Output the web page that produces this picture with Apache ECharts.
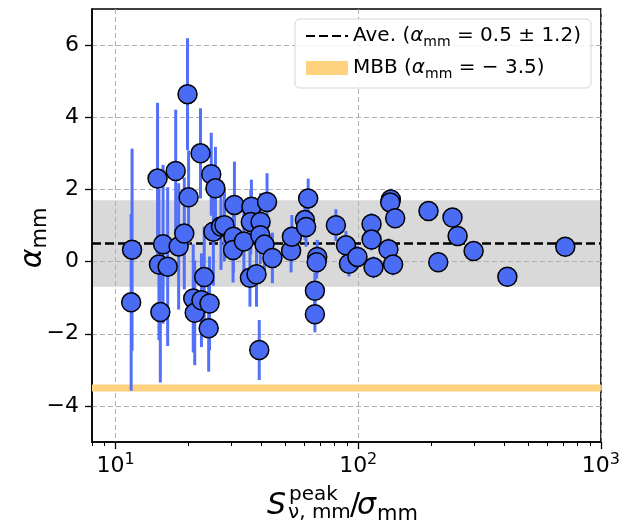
<!DOCTYPE html>
<html><head><meta charset="utf-8">
<script src="https://cdn.jsdelivr.net/npm/echarts@6/dist/echarts.min.js"></script>
<style>html,body{margin:0;padding:0;background:#fff}#c{width:623px;height:527px}</style>
</head><body><div id="c"></div>
<script>
// ---- data ----
const snrValues = [11.7, 11.6, 14.9, 15.1, 15.3, 15.7, 16.4, 17.7, 18.2, 19.2, 19.8, 20.0, 20.9, 21.2, 22.4, 22.6, 23.2, 24.2, 24.4, 24.8, 25.3, 25.8, 27.2, 28.1, 30.6, 30.5, 30.9, 33.8, 35.8, 36.3, 36.1, 38.1, 39.1, 39.6, 39.5, 41.1, 42.1, 44.3, 52.9, 53.3, 60.3, 61.0, 62.2, 66.3, 66.3, 67.8, 67.4, 80.9, 89.0, 91.6, 99.3, 113.5, 113.5, 115.6, 133.2, 136.3, 135.5, 139.2, 142.0, 194.8, 213.7, 244.6, 256.8, 298.8, 411.6, 713];
const alphaValues = [0.33, -1.13, 2.30, -0.08, -1.40, 0.48, -0.14, 2.51, 0.42, 0.78, 4.64, 1.78, -1.02, -1.42, 3.00, -1.07, -0.43, -1.85, -1.16, 2.42, 0.83, 2.03, 0.97, 1.01, 0.69, 0.32, 1.57, 0.56, -0.45, 1.52, 1.10, -0.35, -2.45, 1.10, 0.73, 0.47, 1.65, 0.10, 0.30, 0.69, 1.15, 0.96, 1.75, -0.81, -1.46, 0.13, -0.02, 1.01, 0.45, -0.06, 0.13, 1.04, 0.61, -0.16, 0.34, 1.72, 1.64, -0.08, 1.20, 1.40, -0.02, 1.22, 0.71, 0.29, -0.42, 0.41];
const alphaErrors = [2.8, 2.45, 2.1, 2.1, 1.95, 2.2, 2.2, 1.7, 1.75, 1.55, 1.55, 1.3, 1.5, 1.45, 1.25, 1.3, 1.4, 1.2, 1.3, 1.15, 1.5, 1.15, 1.2, 1.0, 1.0, 0.9, 1.2, 0.9, 0.8, 0.75, 0.9, 0.9, 0.83, 0.8, 0.8, 0.8, 0.8, 0.7, 0.6, 0.6, 0.55, 0.55, 0.55, 0.5, 0.5, 0.47, 0.45, 0.44, 0.4, 0.35, 0.3, 0.3, 0.3, 0.3, 0.3, 0.3, 0.3, 0.3, 0.25, 0.2, 0.2, 0.2, 0.2, 0.2, 0.15, 0.1];
const aveAlpha = 0.5;
const aveSpread = 1.2;
const mbbAlpha = -3.5;
const xRange = [8, 1000];
const yRange = [-5, 7];
const xMajorTicks = [10, 100, 1000];
const xMinorTicks = [8, 9, 20, 30, 40, 50, 60, 70, 80, 90, 200, 300, 400, 500, 600, 700, 800, 900];
const yTicks = [-4, -2, 0, 2, 4, 6];

const FONT = 'DejaVu Sans';
const chart = echarts.init(document.getElementById('c'), null, {renderer: 'canvas'});

const points = snrValues.map((x, i) => [x, alphaValues[i]]);
const bars = snrValues.map((x, i) => [x, alphaValues[i] - alphaErrors[i], alphaValues[i] + alphaErrors[i]]);

const option = {
  animation: false,
  backgroundColor: '#fff',
  grid: {left: 92, right: 22, top: 9, bottom: 85, show: true, borderColor: '#000', borderWidth: 1.5, backgroundColor: 'transparent', z: 1},
  legend: {
    orient: 'vertical', right: 32, top: 19,
    padding: [7, 10, 7, 10], itemGap: 9, itemWidth: 42, itemHeight: 14,
    backgroundColor: 'rgba(255,255,255,0.85)', borderColor: '#d4d4d4', borderWidth: 1, borderRadius: 5,
    data: [{name: 'Ave.', itemStyle: {opacity: 0}}, {name: 'MBB', icon: 'rect'}],
    textStyle: {
      fontFamily: FONT, fontSize: 20, color: '#000',
      rich: {
        n: {fontFamily: FONT, fontSize: 20, lineHeight: 26, color: '#000'},
        it: {fontFamily: FONT, fontSize: 20, fontStyle: 'italic', lineHeight: 26, color: '#000'},
        s: {fontFamily: FONT, fontSize: 14, lineHeight: 14, verticalAlign: 'bottom', color: '#000'}
      }
    },
    formatter: name => name === 'Ave.'
      ? '{n|Ave. (}{it|α}{s|mm}{n| = ' + aveAlpha + ' ± ' + aveSpread + ')}'
      : '{n|MBB (}{it|α}{s|mm}{n| = − ' + Math.abs(mbbAlpha) + ')}'
  },
  xAxis: [{
    type: 'log', logBase: 10, min: xRange[0], max: xRange[1], z: 1,
    axisLine: {show: true, onZero: false, lineStyle: {color: '#000', width: 1.5}},
    axisTick: {show: true, customValues: xMajorTicks, length: 7, lineStyle: {color: '#000', width: 1.3}},
    axisLabel: {
      customValues: xMajorTicks, margin: 10, color: '#000',
      formatter: v => '{b|10}{p|' + Math.round(Math.log10(v)) + '}',
      rich: {
        b: {fontFamily: FONT, fontSize: 22, lineHeight: 28, color: '#000'},
        p: {fontFamily: FONT, fontSize: 16, lineHeight: 16, verticalAlign: 'top', color: '#000'}
      }
    },
    splitLine: {show: true, lineStyle: {color: '#b0b0b0', width: 1, type: [5, 3]}}
  }, {
    type: 'log', logBase: 10, min: xRange[0], max: xRange[1], position: 'bottom', z: 1,
    axisLine: {show: false, onZero: false},
    axisTick: {show: true, customValues: xMinorTicks, length: 4, lineStyle: {color: '#000', width: 1}},
    axisLabel: {show: false},
    splitLine: {show: false}
  }],
  yAxis: {
    type: 'value', min: yRange[0], max: yRange[1], splitNumber: 6, z: 1,
    axisLine: {show: true, onZero: false, lineStyle: {color: '#000', width: 1.5}},
    axisTick: {show: true, customValues: yTicks, length: 7, lineStyle: {color: '#000', width: 1.3}},
    axisLabel: {
      customValues: yTicks, margin: 13, color: '#000', fontFamily: FONT, fontSize: 22,
      formatter: v => (v < 0 ? '−' + Math.abs(v) : String(v))
    },
    splitLine: {show: true, lineStyle: {color: '#b0b0b0', width: 1, type: [5, 3]}}
  },
  graphic: [
    {type: 'text', x: 33, y: 238, rotation: Math.PI / 2, z: 10, style: {
      text: '{a|α}{s|mm}', align: 'center', verticalAlign: 'middle',
      rich: {
        a: {fontFamily: FONT, fontSize: 30, fontStyle: 'italic', lineHeight: 36, fill: '#000'},
        s: {fontFamily: FONT, fontSize: 21, lineHeight: 21, verticalAlign: 'bottom', fill: '#000'}
      }
    }},
    {type: 'text', x: 267, y: 506, z: 10, style: {text: 'S', font: 'italic 30px "DejaVu Sans"', fill: '#000', align: 'left', verticalAlign: 'middle'}},
    {type: 'text', x: 289, y: 495, z: 10, style: {text: 'peak', font: '20px "DejaVu Sans"', fill: '#000', align: 'left', verticalAlign: 'middle'}},
    {type: 'text', x: 288, y: 513, z: 10, style: {text: 'ν, mm', font: '20px "DejaVu Sans"', fill: '#000', align: 'left', verticalAlign: 'middle'}},
    {type: 'text', x: 350, y: 506, z: 10, style: {text: '/', font: '30px "DejaVu Sans"', fill: '#000', align: 'left', verticalAlign: 'middle'}},
    {type: 'text', x: 357, y: 506, z: 10, style: {text: 'σ', font: 'italic 30px "DejaVu Sans"', fill: '#000', align: 'left', verticalAlign: 'middle'}},
    {type: 'text', x: 377, y: 515, z: 10, style: {text: 'mm', font: '21px "DejaVu Sans"', fill: '#000', align: 'left', verticalAlign: 'middle'}}
  ],
  series: [
    {
      name: 'band', type: 'line', z: 0, data: [[xRange[0], aveAlpha]], symbol: 'none',
      lineStyle: {width: 0}, silent: true,
      markArea: {silent: true, z: 0, itemStyle: {color: '#d9d9d9', opacity: 1},
        data: [[{yAxis: aveAlpha - aveSpread}, {yAxis: aveAlpha + aveSpread}]]}
    },
    {
      name: 'Ave.', type: 'line', z: 2, symbol: 'none', color: '#000',
      data: [[xRange[0], aveAlpha], [xRange[1], aveAlpha]],
      lineStyle: {color: '#000', width: 2.5, type: [9, 4]}
    },
    {
      name: 'MBB', type: 'line', z: 2, symbol: 'none', color: '#ffd27f',
      data: [[xRange[0], mbbAlpha], [xRange[1], mbbAlpha]],
      itemStyle: {color: '#ffd27f'},
      lineStyle: {color: '#ffd27f', width: 7}
    },
    {
      name: 'err', type: 'custom', z: 3, data: bars, encode: {x: 0, y: [1, 2]},
      renderItem: (params, api) => {
        const x = api.value(0);
        const p1 = api.coord([x, api.value(1)]);
        const p2 = api.coord([x, api.value(2)]);
        return {type: 'line', shape: {x1: p1[0], y1: p1[1], x2: p2[0], y2: p2[1]},
          style: {stroke: '#5271f8', lineWidth: 3}};
      }
    },
    {
      name: 'data', type: 'scatter', z: 4, data: points, symbolSize: 19,
      itemStyle: {color: '#4a6cf5', borderColor: '#000', borderWidth: 1.5, opacity: 1}
    }
  ]
};
chart.setOption(option);
</script></body></html>
